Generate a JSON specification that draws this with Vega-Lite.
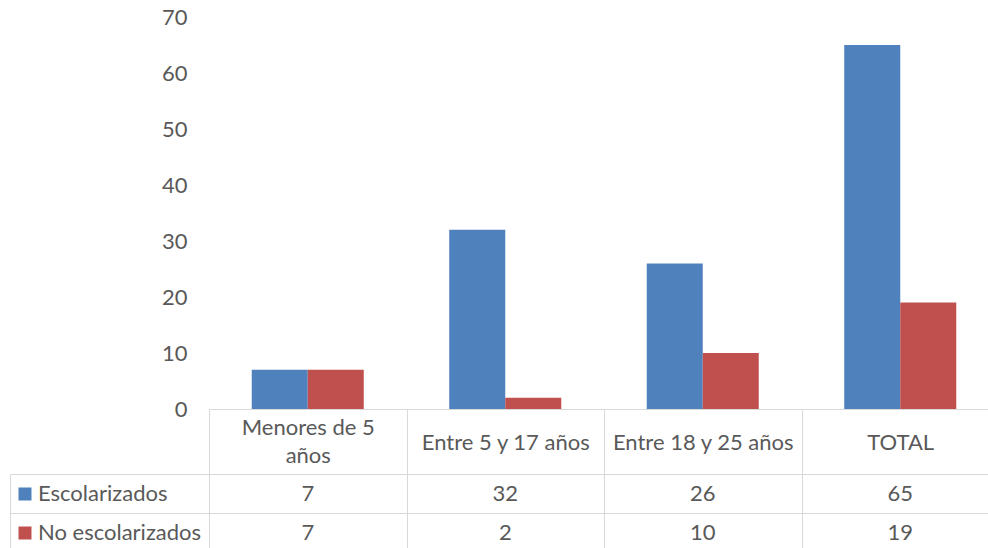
{
  "$schema": "https://vega.github.io/schema/vega-lite/v6.json",
  "autosize": {"type": "none"},
  "width": 779,
  "height": 392,
  "padding": {"left": 209, "top": 17, "right": 0, "bottom": 139},
  "background": "white",
  "config": {
    "view": {"stroke": null},
    "font": "Lato",
    "text": {"font": "Lato"}
  },
  "data": {
    "values": [
      {"categoria": "Menores de 5 años", "serie": "Escolarizados", "valor": 7},
      {"categoria": "Menores de 5 años", "serie": "No escolarizados", "valor": 7},
      {"categoria": "Entre 5 y 17 años", "serie": "Escolarizados", "valor": 32},
      {"categoria": "Entre 5 y 17 años", "serie": "No escolarizados", "valor": 2},
      {"categoria": "Entre 18 y 25 años", "serie": "Escolarizados", "valor": 26},
      {"categoria": "Entre 18 y 25 años", "serie": "No escolarizados", "valor": 10},
      {"categoria": "TOTAL", "serie": "Escolarizados", "valor": 65},
      {"categoria": "TOTAL", "serie": "No escolarizados", "valor": 19}
    ]
  },
  "encoding": {
    "x": {
      "field": "categoria",
      "type": "nominal",
      "sort": ["Menores de 5 años", "Entre 5 y 17 años", "Entre 18 y 25 años", "TOTAL"],
      "scale": {"range": [0, 790], "paddingInner": 0, "paddingOuter": 0},
      "axis": {
        "title": null,
        "orient": "bottom",
        "domain": true,
        "domainColor": "#D9D9D9",
        "domainWidth": 1,
        "ticks": true,
        "tickBand": "extent",
        "tickSize": 143,
        "tickColor": "#D9D9D9",
        "tickWidth": 1,
        "grid": false,
        "labelAngle": 0,
        "labelFont": "Lato",
        "labelFontSize": 22,
        "labelColor": "#595959",
        "labelBaseline": {
          "condition": {"test": "datum.value == 'Menores de 5 años'", "value": "line-bottom"},
          "value": "middle"
        },
        "labelLineHeight": 28,
        "labelPadding": -110,
        "labelLimit": 0,
        "labelExpr": "datum.value == 'Menores de 5 años' ? ['Menores de 5', 'años'] : datum.label"
      }
    }
  },
  "layer": [
    {
      "mark": {"type": "bar"},
      "encoding": {
        "xOffset": {
          "field": "serie",
          "type": "nominal",
          "sort": ["Escolarizados", "No escolarizados"],
          "scale": {"paddingInner": 0, "paddingOuter": 0.763}
        },
        "y": {
          "field": "valor",
          "type": "quantitative",
          "scale": {"domain": [0, 70], "nice": false, "zero": true},
          "axis": {
            "title": null,
            "orient": "left",
            "values": [0, 10, 20, 30, 40, 50, 60, 70],
            "domain": false,
            "ticks": false,
            "grid": false,
            "labelFont": "Lato",
            "labelFontSize": 22,
            "labelColor": "#595959",
            "labelPadding": 22
          }
        },
        "color": {
          "field": "serie",
          "type": "nominal",
          "sort": ["Escolarizados", "No escolarizados"],
          "scale": {"domain": ["Escolarizados", "No escolarizados"], "range": ["#4F81BD", "#C0504D"]},
          "legend": {
            "title": null,
            "orient": "none",
            "legendX": -195,
            "legendY": 466,
            "padding": 0,
            "symbolType": "square",
            "symbolSize": 169,
            "symbolStrokeWidth": 0,
            "symbolOpacity": 1,
            "labelFont": "Lato",
            "labelFontSize": 22,
            "labelColor": "#595959",
            "labelOffset": 2,
            "rowPadding": 17,
            "labelLimit": 0
          }
        }
      }
    },
    {
      "mark": {"type": "text", "font": "Lato", "fontSize": 22, "color": "#595959", "baseline": "middle", "align": "center"},
      "encoding": {
        "y": {
          "field": "serie",
          "type": "nominal",
          "sort": ["Escolarizados", "No escolarizados"],
          "scale": {"range": [457, 535], "paddingInner": 0, "paddingOuter": 0},
          "axis": {
            "title": null,
            "orient": "left",
            "labels": false,
            "domain": true,
            "domainColor": "#D9D9D9",
            "offset": 199,
            "ticks": true,
            "tickBand": "extent",
            "tickSize": -199,
            "tickColor": "#D9D9D9",
            "grid": true,
            "gridColor": "#D9D9D9",
            "gridOpacity": 1
          }
        },
        "text": {"field": "valor", "type": "quantitative"}
      }
    }
  ],
  "resolve": {"scale": {"y": "independent"}, "axis": {"y": "independent"}}
}
